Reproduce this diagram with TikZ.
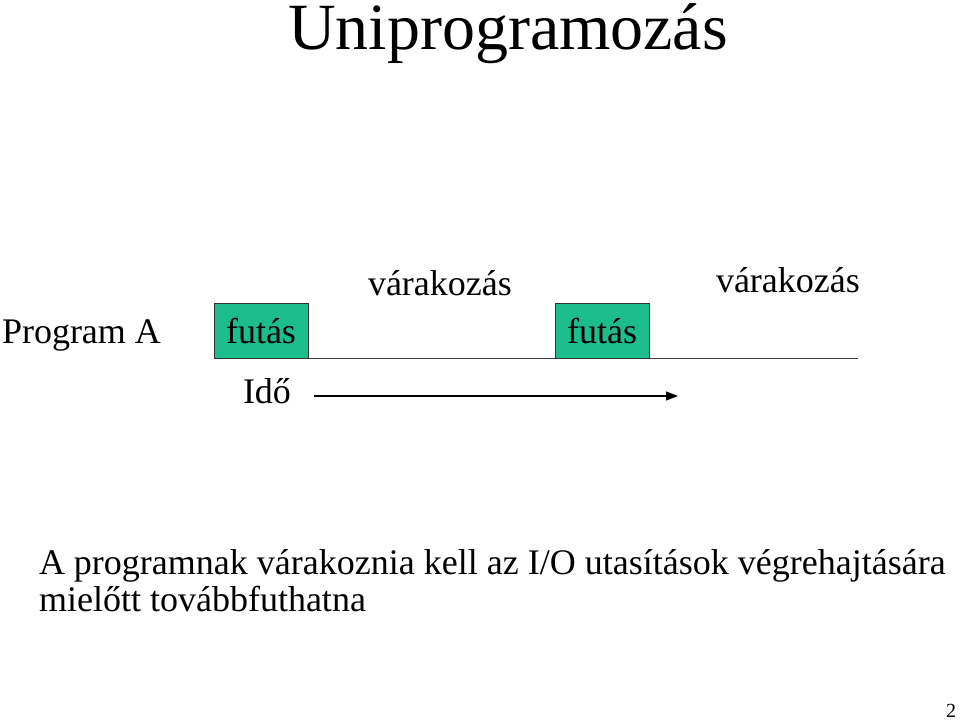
\documentclass[tikz,border=0pt]{standalone}
\usepackage{fontspec}
\setmainfont{Liberation Serif}
\usepackage{xcolor}
\usetikzlibrary{calc, positioning, arrows.meta}
\definecolor{runcolor}{RGB}{28,189,141}
\tikzset{label/.style={anchor=base west, inner sep=0pt, outer sep=0pt, font=\fontsize{36}{40}\selectfont},
runbox/.style={draw=black!80, fill=runcolor, line width=1pt, minimum width=94pt, minimum height=55pt, inner sep=0pt, font=\fontsize{36}{40}\selectfont}}

\begin{document}
\begin{tikzpicture}[x=1pt,y=-1pt]
 \useasboundingbox (0,0) rectangle (960,722);

 %Title
 \node (title) [anchor=base, inner sep=0pt, font=\fontsize{66}{70}\selectfont] at (508,50) {Uniprogramozás};

 %Drawing program line
 \node (proga) [label] at (2,343) {Program A};
 \coordinate (linestart) at (214,358);
 \coordinate (lineend) at (858,358);
 \draw[line width=1pt, black!75] (linestart) -- (lineend);

 \node[runbox] (run1) at (261,331) {futás};
 \node[runbox] (run2) at (602,331) {futás};

 \node (wait1) [label] at (368,295) {várakozás};
 \node (wait2) [label] at (716,292) {várakozás};

 %Drawing time arrow
 \node (ido) [label] at (243,403) {Idő};
 \coordinate (timestart) at (314,396);
 \coordinate (timeend) at (678,396);
 \draw[-{Triangle[length=12pt,width=9pt]}, line width=1.2pt] (timestart) -- (timeend);

 %Note
 \node (note1) [label] at (39,574) {A programnak várakoznia kell az I/O utasítások végrehajtására};
 \node (note2) [label] at (39,611) {mielőtt továbbfuthatna};

 \node (pagenum) [label, font=\fontsize{20}{24}\selectfont] at (946,717) {2};
\end{tikzpicture}
\end{document}
